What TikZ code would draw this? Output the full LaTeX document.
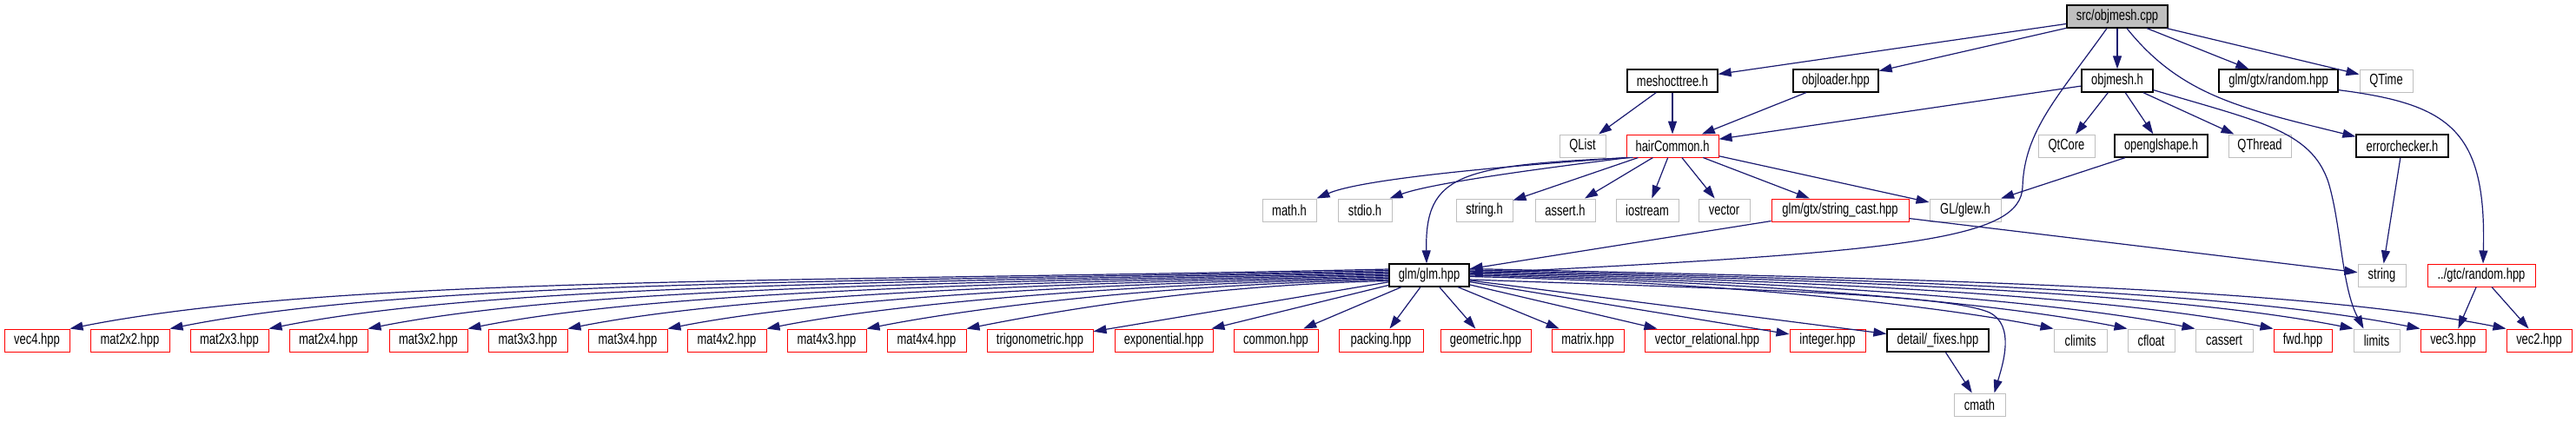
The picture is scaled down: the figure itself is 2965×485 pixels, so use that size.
\documentclass[tikz,border=0pt]{standalone}
\usepackage{fontspec}
\setmainfont{Liberation Sans}
\newfontfamily\narrowfont[FakeStretch=0.74]{Liberation Sans}
\usetikzlibrary{arrows.meta}
\definecolor{edgeblue}{HTML}{191970}
\definecolor{boxgray}{HTML}{BFBFBF}
\definecolor{boxred}{HTML}{FF0000}
\newcommand{\fanleft}[3]{%
  \pgfmathsetmacro{\fdx}{1599-#2}%
  \pgfmathsetmacro{\fax}{1599-0.45*\fdx}%
  \pgfmathsetmacro{\fay}{#3+0.01*\fdx}%
  \pgfmathsetmacro{\fbx}{#2+0.2*\fdx}%
  \pgfmathsetmacro{\fby}{379-0.04*\fdx}%
  \pgfmathsetmacro{\fsh}{317-#3}%
  \draw[conn] ([yshift=\fsh pt]glm.west) .. controls (\fax,\fay) and (\fbx,\fby) .. (#1.north east);%
}
\newcommand{\fanright}[3]{%
  \pgfmathsetmacro{\fdx}{#2-1691}%
  \pgfmathsetmacro{\fax}{1691+0.45*\fdx}%
  \pgfmathsetmacro{\fay}{#3+0.01*\fdx}%
  \pgfmathsetmacro{\fbx}{#2-0.2*\fdx}%
  \pgfmathsetmacro{\fby}{379-0.04*\fdx}%
  \pgfmathsetmacro{\fsh}{317-#3}%
  \draw[conn] ([yshift=\fsh pt]glm.east) .. controls (\fax,\fay) and (\fbx,\fby) .. (#1.north west);%
}
\begin{document}
\begin{tikzpicture}[x=1pt,y=-1pt,
  nb/.style={draw, rectangle, minimum height=26pt, inner sep=0pt, line width=1pt, fill=white, font=\narrowfont\fontsize{17.5}{19}\selectfont},
  blackbox/.style={nb, draw=black, line width=1.3pt},
  redbox/.style={nb, draw=boxred},
  graybox/.style={nb, draw=boxgray},
  rootbox/.style={nb, draw=black, line width=1.3pt, fill=boxgray},
  conn/.style={draw=edgeblue, line width=1.2pt, -{Triangle[length=15pt,width=10pt]}}]
\fill[white] (0,0) rectangle (2965,485);
\useasboundingbox (0,0) rectangle (2965,485);
% row 0
\node[rootbox, minimum width=116pt] (cpp) at (2437,19) {src/objmesh.cpp};
% row 1
\node[blackbox, minimum width=104pt] (mesh) at (1925,93) {meshocttree.h};
\node[blackbox, minimum width=98pt] (objl) at (2113,93) {objloader.hpp};
\node[blackbox, minimum width=82pt] (objh) at (2437,93) {objmesh.h};
\node[blackbox, minimum width=137pt] (gtxr) at (2622.5,93) {glm/gtx/random.hpp};
\node[graybox, minimum width=61pt] (qtime) at (2746.5,93) {QTime};
% row 2
\node[graybox, minimum width=53pt] (qlist) at (1821.5,168) {QList};
\node[redbox, minimum width=106pt] (hair) at (1925,168) {hairCommon.h};
\node[graybox, minimum width=65pt] (qtcore) at (2378.5,168) {QtCore};
\node[blackbox, minimum width=107pt] (ogl) at (2487.5,168) {openglshape.h};
\node[graybox, minimum width=72pt] (qthread) at (2601,168) {QThread};
\node[blackbox, minimum width=106pt] (errc) at (2765,168) {errorchecker.h};
% row 3
\node[graybox, minimum width=62pt] (math) at (1484,242) {math.h};
\node[graybox, minimum width=62pt] (stdio) at (1571,242) {stdio.h};
\node[graybox, minimum width=65pt] (strh) at (1708.5,242) {string.h};
\node[graybox, minimum width=69pt] (assert) at (1801.5,242) {assert.h};
\node[graybox, minimum width=72pt] (iostream) at (1896,242) {iostream};
\node[graybox, minimum width=59pt] (vector) at (1984.5,242) {vector};
\node[redbox, minimum width=158pt] (sc) at (2118,242) {glm/gtx/string\_cast.hpp};
\node[graybox, minimum width=82pt] (glew) at (2262,242) {GL/glew.h};
% row 4
\node[blackbox, minimum width=92pt] (glm) at (1645,317) {glm/glm.hpp};
\node[graybox, minimum width=55pt] (string) at (2741.5,317) {string};
\node[redbox, minimum width=124pt] (gtcr) at (2856,317) {../gtc/random.hpp};
% row 5
\node[redbox, minimum width=75pt] (vec4) at (42.5,392) {vec4.hpp};
\node[redbox, minimum width=91pt] (m22) at (149.5,392) {mat2x2.hpp};
\node[redbox, minimum width=90pt] (m23) at (264,392) {mat2x3.hpp};
\node[redbox, minimum width=90pt] (m24) at (378,392) {mat2x4.hpp};
\node[redbox, minimum width=90pt] (m32) at (493,392) {mat3x2.hpp};
\node[redbox, minimum width=91pt] (m33) at (607.5,392) {mat3x3.hpp};
\node[redbox, minimum width=91pt] (m34) at (722.5,392) {mat3x4.hpp};
\node[redbox, minimum width=91pt] (m42) at (836.5,392) {mat4x2.hpp};
\node[redbox, minimum width=91pt] (m43) at (951.5,392) {mat4x3.hpp};
\node[redbox, minimum width=91pt] (m44) at (1066.5,392) {mat4x4.hpp};
\node[redbox, minimum width=122pt] (trig) at (1197,392) {trigonometric.hpp};
\node[redbox, minimum width=113pt] (expo) at (1339.5,392) {exponential.hpp};
\node[redbox, minimum width=97pt] (common) at (1468.5,392) {common.hpp};
\node[redbox, minimum width=97pt] (packing) at (1589.5,392) {packing.hpp};
\node[redbox, minimum width=104pt] (geom) at (1710,392) {geometric.hpp};
\node[redbox, minimum width=83pt] (matrix) at (1827.5,392) {matrix.hpp};
\node[redbox, minimum width=144pt] (vrel) at (1965,392) {vector\_relational.hpp};
\node[redbox, minimum width=87pt] (integer) at (2103.5,392) {integer.hpp};
\node[blackbox, minimum width=117pt] (fixes) at (2230.5,392) {detail/\_fixes.hpp};
\node[graybox, minimum width=61pt] (climits) at (2394.5,392) {climits};
\node[graybox, minimum width=54pt] (cfloat) at (2476,392) {cfloat};
\node[graybox, minimum width=66pt] (cassert) at (2560,392) {cassert};
\node[redbox, minimum width=67pt] (fwd) at (2650.5,392) {fwd.hpp};
\node[graybox, minimum width=53pt] (limits) at (2735.5,392) {limits};
\node[redbox, minimum width=75pt] (vec3) at (2823.5,392) {vec3.hpp};
\node[redbox, minimum width=75pt] (vec2) at (2922.5,392) {vec2.hpp};
% row 6
\node[graybox, minimum width=59pt] (cmath) at (2278.5,466) {cmath};
% edges from src/objmesh.cpp
\draw[conn] (cpp) -- (mesh);
\draw[conn] (cpp) -- (objl);
\draw[conn] (cpp) -- (objh);
\draw[conn] (cpp) -- (gtxr);
\draw[conn] (cpp) -- (qtime);
\draw[conn] ([xshift=-12pt]cpp.south) .. controls (2370,110) and (2330,150) .. (2328,215) .. controls (2326,275) and (2200,290) .. ([yshift=2pt]glm.east);
\draw[conn] ([xshift=11pt]cpp.south) .. controls (2510,110) and (2580,125) .. ([yshift=-3pt]errc.north west);
% row 1 edges
\draw[conn] (mesh) -- (qlist);
\draw[conn] (mesh) -- (hair);
\draw[conn] (objl) -- (hair);
\draw[conn] (objh) -- (hair);
\draw[conn] (objh) -- (qtcore);
\draw[conn] (objh) -- (ogl);
\draw[conn] (objh) -- (qthread);
\draw[conn] ([yshift=3pt]objh.south east) .. controls (2600,140) and (2660,150) .. (2680,210) .. controls (2695,260) and (2695,330) .. ([xshift=-15pt]limits.north);
\draw[conn] ([yshift=3pt]gtxr.south east) .. controls (2820,120) and (2862,150) .. ([xshift=2pt]gtcr.north);
% row 2 edges
\draw[conn] (ogl) -- (glew);
\draw[conn] (errc) -- (string);
\draw[conn] (hair.south west) .. controls (1750,190) and (1570,205) .. (math.north east);
\draw[conn] ([xshift=3pt]hair.south west) .. controls (1790,192) and (1650,210) .. ([xshift=-3pt]stdio.north east);
\draw[conn] ([xshift=8pt]hair.south west) .. controls (1680,190) and (1640,200) .. ([xshift=-3pt]glm.north);
\draw[conn] (hair) -- (strh);
\draw[conn] (hair) -- (assert);
\draw[conn] (hair) -- (iostream);
\draw[conn] (hair) -- (vector);
\draw[conn] (hair) -- (sc);
\draw[conn] (hair) -- (glew);
% row 3 edges
\draw[conn] (sc) -- (glm);
\draw[conn] (sc) -- (string);
% row 4 edges
\fanleft{vec4}{80}{310}
\fanleft{m22}{195}{311.5}
\fanleft{m23}{309}{313}
\fanleft{m24}{423}{314.5}
\fanleft{m32}{538}{316}
\fanleft{m33}{653}{317.5}
\fanleft{m34}{768}{319}
\fanleft{m42}{882}{320.5}
\fanleft{m43}{997}{322}
\fanleft{m44}{1112}{323.5}
\draw[conn] (glm) -- (trig);
\draw[conn] (glm) -- (expo);
\draw[conn] (glm) -- (common);
\draw[conn] (glm) -- (packing);
\draw[conn] (glm) -- (geom);
\draw[conn] (glm) -- (matrix);
\draw[conn] (glm) -- (vrel);
\draw[conn] (glm) -- (integer);
\draw[conn] (glm) -- (fixes);
\fanright{climits}{2364}{318.5}
\fanright{cfloat}{2449}{317}
\fanright{cassert}{2527}{315.5}
\fanright{fwd}{2617}{314}
\fanright{limits}{2709}{312.5}
\fanright{vec3}{2786}{311}
\fanright{vec2}{2885}{309.5}
\draw[conn] ([yshift=-5pt]glm.east) .. controls (2000,333) and (2240,338) .. (2290,360) .. controls (2320,375) and (2305,420) .. ([xshift=17pt]cmath.north);
\draw[conn] (fixes) -- (cmath);
\draw[conn] (gtcr) -- (vec3);
\draw[conn] (gtcr) -- (vec2);
\end{tikzpicture}
\end{document}
